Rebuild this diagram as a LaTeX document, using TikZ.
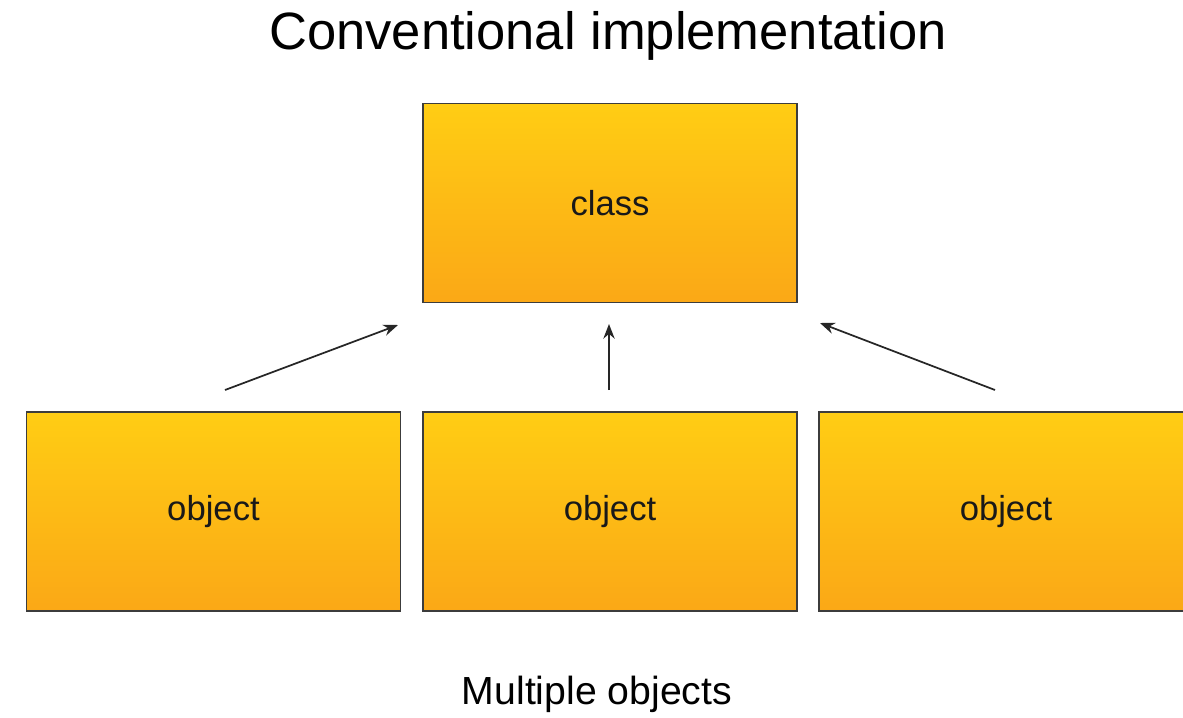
\documentclass[tikz,border=0pt]{standalone}
\usepackage{fontspec}
\setmainfont{Liberation Sans}
\usetikzlibrary{arrows.meta,calc}
\definecolor{boxtop}{RGB}{255,205,20}
\definecolor{boxbot}{RGB}{251,168,22}
\definecolor{boxline}{RGB}{60,60,60}
\begin{document}
\begin{tikzpicture}[x=0.75pt,y=-0.75pt,
  box/.style={draw=boxline,line width=1.4pt,top color=boxtop,bottom color=boxbot,
    minimum width=280.5pt,minimum height=149.25pt,inner sep=0pt,
    font=\fontsize{26}{30}\selectfont,text=black!90},
  arr/.style={-{Stealth[length=11pt,width=8.5pt]},line width=1.3pt,draw=black!85}]
\useasboundingbox (0,0) rectangle (1183,718);
\clip (0,0) rectangle (1183,718);
\node[font=\fontsize{39.4}{44}\selectfont] (title) at (608,36) {Conventional implementation};
\node[box] (cls) at (610,203) {\raisebox{-2pt}{class}};
\node[box] (o1) at (213.5,511.5) {\raisebox{-2pt}{object}};
\node[box] (o2) at (610,511.5) {\raisebox{-2pt}{object}};
\node[box] (o3) at (1006,511.5) {\raisebox{-2pt}{object}};
\node[font=\fontsize{29.4}{34}\selectfont] (cap) at (597,694) {Multiple objects};
\coordinate (s1) at (225,390);
\coordinate (e1) at (398,325);
\coordinate (s2) at (609,390);
\coordinate (e2) at (609,324);
\coordinate (s3) at (995,390);
\coordinate (e3) at (820,323);
\draw[arr] (s1) -- (e1);
\draw[arr] (s2) -- (e2);
\draw[arr] (s3) -- (e3);
\end{tikzpicture}
\end{document}
